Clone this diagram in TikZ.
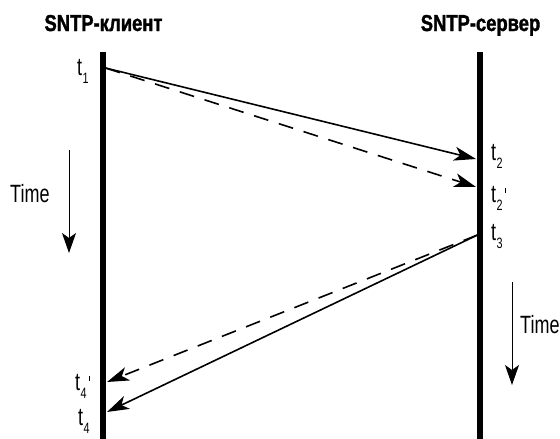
\documentclass[tikz,border=0pt]{standalone}
\usepackage{fontspec}
\setmainfont{Liberation Sans}
\newfontfamily\hdf[FakeStretch=0.8,FakeBold=1.5]{Liberation Sans Bold}
\newfontfamily\lbf[FakeStretch=0.72]{Liberation Sans}
\usetikzlibrary{arrows.meta}
\newcommand\tlab[2]{t\kern0.5pt\raisebox{-8pt}{\fontsize{15}{15}\selectfont #1}#2}
\newcommand\prm{\kern2.5pt\raisebox{9pt}{\rule{1.1pt}{5.5pt}}}
\begin{document}
\begin{tikzpicture}[x=1pt,y=-1pt,
  timeline/.style={line width=5.5pt},
  msg/.style={line width=1.6pt,-{Stealth[length=22pt,width=14pt,inset=6pt]}},
  msgdash/.style={msg,dash pattern=on 15pt off 11pt},
  timearrow/.style={line width=1pt,-{Stealth[length=20pt,width=14pt,inset=5pt]}},
  hdr/.style={inner sep=0pt,anchor=base,font=\hdf\fontsize{23}{23}\selectfont},
  lab/.style={inner sep=0pt,anchor=base west,font=\lbf\fontsize{25}{25}\selectfont}]
\useasboundingbox (0,0) rectangle (560,439);
% timelines
\coordinate (ctop) at (103,52);
\coordinate (cbot) at (103,439);
\coordinate (stop) at (480,52);
\coordinate (sbot) at (480,439);
\draw[timeline] (ctop) -- (cbot);
\draw[timeline] (stop) -- (sbot);
% headers
\node[hdr] (hc) at (103.5,31) {SNTP-клиент};
\node[hdr] (hs) at (480.5,31) {SNTP-сервер};
% event points
\coordinate (t1) at (105.5,68);
\coordinate (t2) at (476,159);
\coordinate (t2p) at (476,187);
\coordinate (t3) at (477.5,235);
\coordinate (t4p) at (107,382);
\coordinate (t4) at (107,412);
% messages
\draw[msg] (t1) -- (t2);
\draw[msgdash] (t1) -- (t2p);
\draw[msg] (t3) -- (t4);
\draw[msgdash] (t3) -- (t4p);
% labels
\node[lab] (l1) at (77,75) {\tlab{1}{}};
\node[lab] (l2) at (491,160) {\tlab{2}{}};
\node[lab] (l2p) at (491,202) {\tlab{2}{\prm}};
\node[lab] (l3) at (491,240) {\tlab{3}{}};
\node[lab] (l4p) at (75,390) {\tlab{4}{\prm}};
\node[lab] (l4) at (78,425) {\tlab{4}{}};
% time arrows
\coordinate (ta1) at (69,150);
\coordinate (tb1) at (69,253);
\draw[timearrow] (ta1) -- (tb1);
\node[lab] (time1) at (10,202) {Time};
\coordinate (ta2) at (512,282);
\coordinate (tb2) at (512,385);
\draw[timearrow] (ta2) -- (tb2);
\node[lab] (time2) at (520,333) {Time};
\end{tikzpicture}
\end{document}
